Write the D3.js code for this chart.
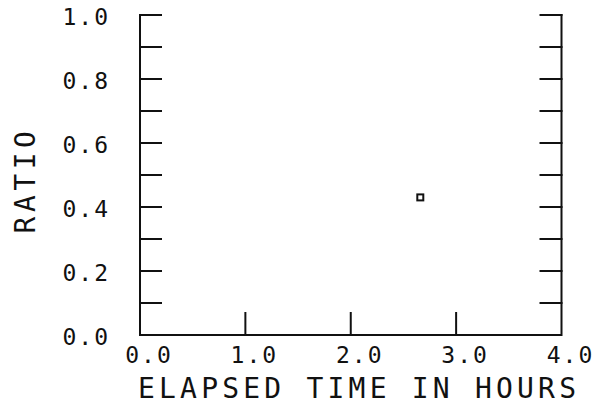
<!DOCTYPE html>
<html>
<head>
<meta charset="utf-8">
<script src="https://cdn.jsdelivr.net/npm/d3@7"></script>
<style>
  html, body { margin: 0; padding: 0; background: #fff; }
  svg { display: block; }
  text { font-family: "DejaVu Sans Mono", monospace; fill: #111; }
</style>
</head>
<body>
<svg id="chart" width="599" height="405"></svg>
<script>
// ---- data ----
const elapsedHours = [2.66];
const ratioValues = [0.43];
const xTickValues = [0, 1, 2, 3, 4];
const xTickLabels = ["0.0", "1.0", "2.0", "3.0", "4.0"];
const yTickValues = [0, 0.2, 0.4, 0.6, 0.8, 1.0];
const yTickLabels = ["0.0", "0.2", "0.4", "0.6", "0.8", "1.0"];
const yMinorTicks = [0.1, 0.2, 0.3, 0.4, 0.5, 0.6, 0.7, 0.8, 0.9, 1.0];
const xInnerTicks = [1, 2, 3];
const xTitle = "ELAPSED TIME IN HOURS";
const yTitle = "RATIO";

// ---- layout ----
const svg = d3.select("#chart");
const x = d3.scaleLinear().domain([0, 4]).range([140, 561.5]);
const y = d3.scaleLinear().domain([0, 1]).range([335, 15]);
const tickLen = 21;
const ink = "#111";

const g = svg.append("g")
  .attr("stroke", ink)
  .attr("stroke-width", 2)
  .attr("fill", "none")
  .attr("stroke-linecap", "square");

// frame: left, bottom, right (open on top)
g.append("path")
  .attr("d", `M${x(0)},${y(1)} L${x(0)},${y(0)} L${x(4)},${y(0)} L${x(4)},${y(1)}`);

// left & right inward ticks
g.selectAll("line.yl").data(yMinorTicks).join("line")
  .attr("class", "yl")
  .attr("x1", x(0)).attr("x2", x(0) + tickLen)
  .attr("y1", d => y(d)).attr("y2", d => y(d));
g.selectAll("line.yr").data(yMinorTicks).join("line")
  .attr("class", "yr")
  .attr("x1", x(4)).attr("x2", x(4) - tickLen)
  .attr("y1", d => y(d)).attr("y2", d => y(d));

// bottom inward ticks
g.selectAll("line.xb").data(xInnerTicks).join("line")
  .attr("class", "xb")
  .attr("x1", d => x(d)).attr("x2", d => x(d))
  .attr("y1", y(0)).attr("y2", y(0) - tickLen - 1);

// y tick labels
const ls = 2;
svg.append("g").selectAll("text").data(yTickValues).join("text")
  .attr("x", 108 + ls)
  .attr("y", d => y(d) + 10)
  .attr("text-anchor", "end")
  .attr("font-size", 23)
  .attr("letter-spacing", ls)
  .text((d, i) => yTickLabels[i]);

// x tick labels
svg.append("g").selectAll("text").data(xTickValues).join("text")
  .attr("x", d => x(d) + 8 + ls / 2)
  .attr("y", 363)
  .attr("text-anchor", "middle")
  .attr("font-size", 23)
  .attr("letter-spacing", ls)
  .text((d, i) => xTickLabels[i]);

// axis titles
svg.append("text")
  .attr("x", 138)
  .attr("y", 398)
  .attr("font-size", 28)
  .attr("letter-spacing", 4.2)
  .text(xTitle);

svg.append("text")
  .attr("transform", "translate(35,180) rotate(-90)")
  .attr("text-anchor", "middle")
  .attr("font-size", 28)
  .attr("letter-spacing", 4.5)
  .text(yTitle);

// data point(s): small hollow square
svg.append("g").selectAll("rect").data(elapsedHours).join("rect")
  .attr("x", d => x(d) - 3)
  .attr("y", (d, i) => y(ratioValues[i]) - 3)
  .attr("width", 6)
  .attr("height", 6)
  .attr("fill", "none")
  .attr("stroke", ink)
  .attr("stroke-width", 2);
</script>
</body>
</html>
